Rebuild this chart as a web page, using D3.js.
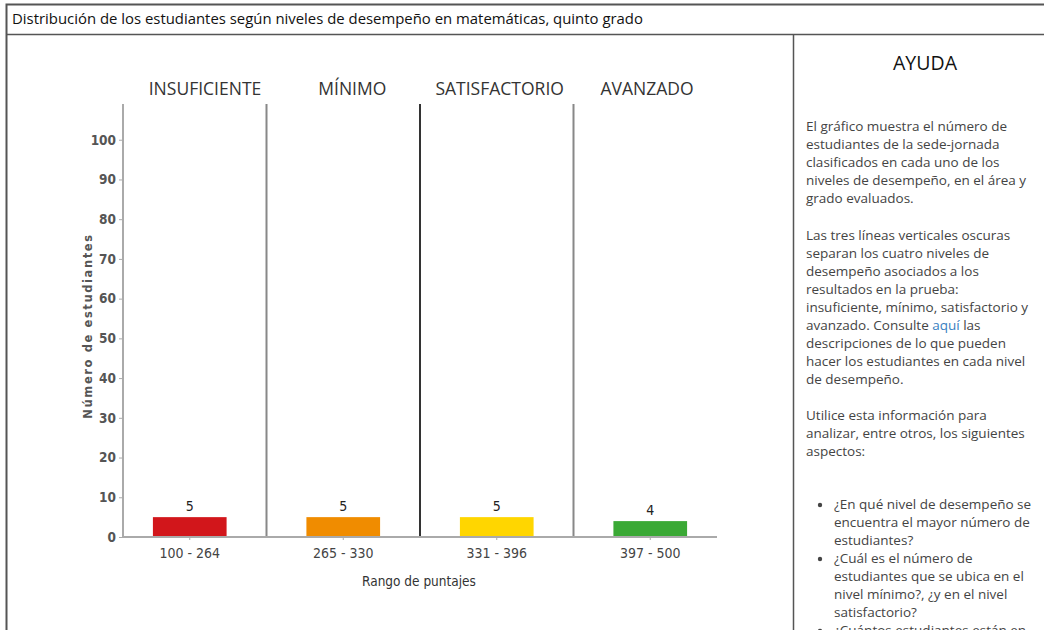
<!DOCTYPE html>
<html>
<head>
<meta charset="utf-8">
<script src="https://cdn.jsdelivr.net/npm/d3@7"></script>
<style>
  body { margin: 0; background: #fff; overflow: hidden; }
  svg { display: block; }
</style>
</head>
<body>
<div id="chart"></div>
<script>
// datos
var niveles = ["INSUFICIENTE", "MÍNIMO", "SATISFACTORIO", "AVANZADO"];
var rangos = ["100 - 264", "265 - 330", "331 - 396", "397 - 500"];
var estudiantes = [5, 5, 5, 4];
var colores = ["#d2161b", "#f08c00", "#ffd600", "#3aa935"];
var yTicks = [0, 10, 20, 30, 40, 50, 60, 70, 80, 90, 100];

var ayuda1 = ["El gráfico muestra el número de", "estudiantes de la sede-jornada",
  "clasificados en cada uno de los", "niveles de desempeño, en el área y", "grado evaluados."];
var ayuda2 = ["Las tres líneas verticales oscuras", "separan los cuatro niveles de",
  "desempeño asociados a los", "resultados en la prueba:",
  "insuficiente, mínimo, satisfactorio y", "avanzado. Consulte |aquí| las",
  "descripciones de lo que pueden", "hacer los estudiantes en cada nivel", "de desempeño."];
var ayuda3 = ["Utilice esta información para", "analizar, entre otros, los siguientes", "aspectos:"];
var preguntas = [
  ["¿En qué nivel de desempeño se", "encuentra el mayor número de", "estudiantes?"],
  ["¿Cuál es el número de", "estudiantes que se ubica en el", "nivel mínimo?, ¿y en el nivel", "satisfactorio?"],
  ["¿Cuántos estudiantes están en"]
];

var width = 1044, height = 630;
var condensed = "'DejaVu Sans Condensed', 'Liberation Sans Narrow', sans-serif";
var sans = "'Open Sans', 'Noto Sans', sans-serif";

var svg = d3.select("#chart").append("svg")
  .attr("width", width)
  .attr("height", height);

// marco
svg.append("rect").attr("x", 6.5).attr("y", 4.5).attr("width", 1100).attr("height", 700)
  .attr("fill", "none").attr("stroke", "#555").attr("stroke-width", 2);
svg.append("line").attr("x1", 6).attr("x2", width).attr("y1", 34.5).attr("y2", 34.5)
  .attr("stroke", "#555").attr("stroke-width", 1.5);
svg.append("line").attr("x1", 793.5).attr("x2", 793.5).attr("y1", 34).attr("y2", height)
  .attr("stroke", "#555").attr("stroke-width", 1.5);

svg.append("text")
  .attr("x", 12).attr("y", 24)
  .style("font-family", sans).style("font-size", "14.9px").style("fill", "#111")
  .text("Distribución de los estudiantes según niveles de desempeño en matemáticas, quinto grado");

// escalas
var x = d3.scaleBand()
  .domain(niveles)
  .range([113, 727])
  .paddingInner(0.52)
  .paddingOuter(0.26);

// los encabezados van un poco desplazados respecto a las barras
var xHead = d3.scalePoint()
  .domain(niveles)
  .range([205, 647]);

var y = d3.scaleLinear()
  .domain([0, 110])
  .range([537, 100]);

var g = svg.append("g");

// eje y
var yAxis = d3.axisLeft(y).tickValues(yTicks).tickSize(4).tickPadding(3);
var gy = g.append("g").attr("transform", "translate(123,0)").call(yAxis);
gy.select(".domain").remove();
gy.selectAll(".tick line").attr("stroke", "#aaa");
gy.selectAll(".tick text").style("font-family", condensed).style("font-size", "13.5px")
  .style("font-weight", "bold").style("fill", "#555");
g.append("line").attr("x1", 123).attr("x2", 123).attr("y1", y(109)).attr("y2", y(0))
  .attr("stroke", "#aaa").attr("stroke-width", 2);

// eje x
var xAxis = d3.axisBottom(x).tickFormat(function(d, i) { return rangos[i]; }).tickSize(3).tickPadding(8);
var gx = g.append("g").attr("transform", "translate(0," + y(0) + ")").call(xAxis);
gx.select(".domain").remove();
gx.selectAll(".tick line").attr("stroke", "#aaa");
gx.selectAll(".tick text").style("font-family", condensed).style("font-size", "14px")
  .style("fill", "#444");

// separadores de niveles
var separadores = niveles.slice(1).map(function(d, i) {
  return (x(niveles[i]) + x(d) + x.bandwidth()) / 2;
});
g.selectAll(".sep").data(separadores).enter().append("line")
  .attr("class", "sep")
  .attr("x1", function(d) { return d; }).attr("x2", function(d) { return d; })
  .attr("y1", y(109)).attr("y2", y(0))
  .attr("stroke", function(d, i) { return i == 1 ? "#333" : "#888"; })
  .attr("stroke-width", 2);

// barras
g.selectAll(".bar").data(estudiantes).enter().append("rect")
  .attr("class", "bar")
  .attr("x", function(d, i) { return x(niveles[i]); })
  .attr("width", x.bandwidth())
  .attr("y", function(d) { return y(d); })
  .attr("height", function(d) { return y(0) - y(d); })
  .attr("fill", function(d, i) { return colores[i]; });

g.append("line").attr("x1", 123).attr("x2", 717).attr("y1", y(0)).attr("y2", y(0))
  .attr("stroke", "#aaa").attr("stroke-width", 2);

// valores
g.selectAll(".val").data(estudiantes).enter().append("text")
  .attr("class", "val")
  .attr("x", function(d, i) { return x(niveles[i]) + x.bandwidth() / 2; })
  .attr("y", function(d) { return y(d) - 6; })
  .attr("text-anchor", "middle")
  .style("font-family", condensed).style("font-size", "14px").style("fill", "#222")
  .text(function(d) { return d; });

// encabezados de nivel
g.selectAll(".nivel").data(niveles).enter().append("text")
  .attr("class", "nivel")
  .attr("x", function(d) { return xHead(d); })
  .attr("y", 95)
  .attr("text-anchor", "middle")
  .style("font-family", sans).style("font-size", "17.5px").style("fill", "#333")
  .text(function(d) { return d; });

// títulos de ejes
g.append("text")
  .attr("x", 419).attr("y", 586)
  .attr("text-anchor", "middle")
  .style("font-family", condensed).style("font-size", "13.5px").style("fill", "#333")
  .text("Rango de puntajes");

g.append("text")
  .attr("transform", "translate(92,326) rotate(-90)")
  .attr("text-anchor", "middle")
  .style("font-family", "'DejaVu Sans', sans-serif").style("font-size", "11.5px")
  .style("font-weight", "bold").style("letter-spacing", "1.6px").style("fill", "#555")
  .text("Número de estudiantes");

// panel de ayuda
var panel = svg.append("g").style("font-family", sans).style("font-size", "13.5px").style("fill", "#444");
panel.append("text").attr("x", 925).attr("y", 70).attr("text-anchor", "middle")
  .style("font-size", "19.5px").style("fill", "#111").text("AYUDA");

function lineas(arr, y0, x0) {
  arr.forEach(function(l, i) {
    var t = panel.append("text").attr("x", x0).attr("y", y0 + i * 18);
    l.split("|").forEach(function(parte, j) {
      t.append("tspan").style("fill", j == 1 ? "#3a7fc1" : null).text(parte);
    });
  });
}
lineas(ayuda1, 131, 806);
lineas(ayuda2, 240, 806);
lineas(ayuda3, 420, 806);
var yy = 509;
preguntas.forEach(function(p) {
  panel.append("circle").attr("cx", 820).attr("cy", yy - 4).attr("r", 2.2).style("fill", "#444");
  lineas(p, yy, 834);
  yy += p.length * 18;
});
</script>
</body>
</html>
